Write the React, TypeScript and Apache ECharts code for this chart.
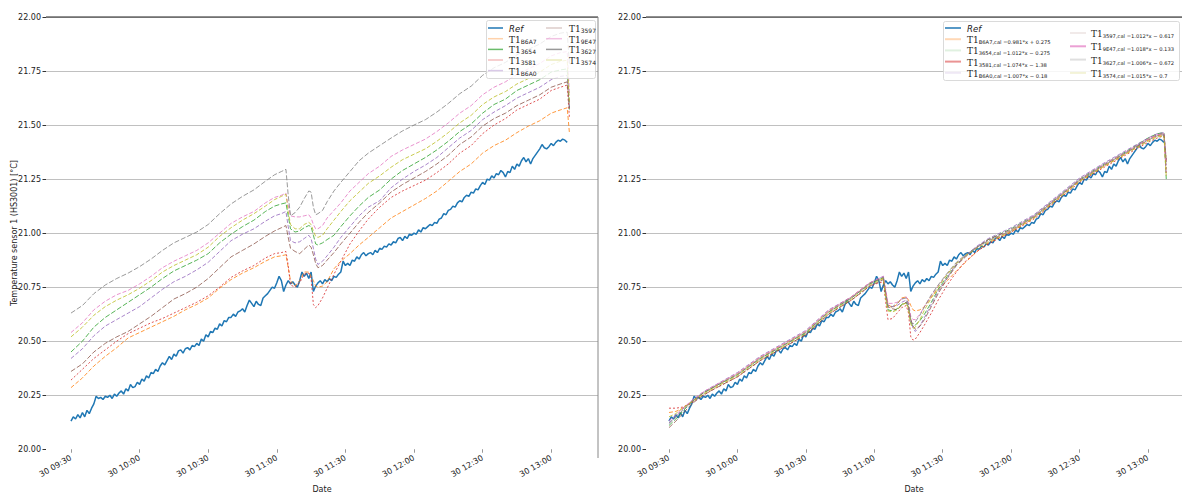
import React, { useEffect, useRef } from "react";
import * as echarts from "echarts";

// 09:30 expressed in minutes after midnight; all times below are minutes after 09:30
const START_MIN = 9 * 60 + 30;

const xTickLabels = ["30 09:30", "30 10:00", "30 10:30", "30 11:00", "30 11:30", "30 12:00", "30 12:30", "30 13:00"];

const sensorIds = ["B6A7", "3654", "3581", "B6A0", "3597", "9E47", "3627", "3574"];
const sensorColors = ["#ff7f0e", "#2ca02c", "#d62728", "#9467bd", "#8c564b", "#e377c2", "#7f7f7f", "#bcbd22"];
const calEquations = [
  "=0.981*x + 0.275",
  "=1.012*x \u2212 0.275",
  "=1.074*x \u2212 1.38",
  "=1.007*x \u2212 0.18",
  "=1.012*x \u2212 0.617",
  "=1.018*x \u2212 0.133",
  "=1.006*x \u2212 0.672",
  "=1.015*x \u2212 0.7",
];

// Reference sensor, one sample per minute from 09:30
const refTemp = [
  20.13, 20.15, 20.14, 20.16, 20.145, 20.17, 20.15, 20.18, 20.165, 20.19,
  20.21, 20.245, 20.235, 20.24, 20.23, 20.245, 20.24, 20.25, 20.235, 20.255,
  20.245, 20.26, 20.27, 20.255, 20.28, 20.27, 20.30, 20.285, 20.29, 20.31,
  20.30, 20.325, 20.315, 20.34, 20.33, 20.355, 20.35, 20.37, 20.36, 20.385,
  20.40, 20.39, 20.41, 20.43, 20.415, 20.44, 20.43, 20.455, 20.46, 20.445,
  20.465, 20.47, 20.46, 20.48, 20.475, 20.49, 20.48, 20.51, 20.50, 20.53,
  20.52, 20.545, 20.54, 20.56, 20.555, 20.58, 20.57, 20.595, 20.59, 20.61,
  20.61, 20.625, 20.615, 20.635, 20.64, 20.65, 20.635, 20.665, 20.69, 20.675,
  20.66, 20.685, 20.67, 20.665, 20.70, 20.71, 20.72, 20.735, 20.75, 20.745,
  20.77, 20.80, 20.78, 20.73, 20.76, 20.78, 20.765, 20.775, 20.76, 20.75,
  20.78, 20.82, 20.80, 20.815, 20.79, 20.82, 20.73, 20.755, 20.77, 20.78,
  20.765, 20.785, 20.775, 20.79, 20.78, 20.80, 20.795, 20.81, 20.82, 20.87,
  20.85, 20.86, 20.85, 20.875, 20.87, 20.89, 20.88, 20.90, 20.91, 20.895,
  20.905, 20.91, 20.90, 20.92, 20.91, 20.93, 20.925, 20.94, 20.935, 20.95,
  20.945, 20.96, 20.955, 20.975, 20.98, 20.965, 20.985, 20.975, 20.995, 20.99,
  21.00, 20.995, 21.015, 21.005, 21.025, 21.02, 21.03, 21.04, 21.035, 21.05,
  21.045, 21.065, 21.07, 21.09, 21.085, 21.105, 21.11, 21.125, 21.12, 21.14,
  21.15, 21.145, 21.165, 21.175, 21.17, 21.19, 21.185, 21.205, 21.20, 21.22,
  21.235, 21.225, 21.25, 21.245, 21.265, 21.255, 21.275, 21.27, 21.29, 21.28,
  21.26, 21.285, 21.28, 21.31, 21.295, 21.32, 21.31, 21.335, 21.35, 21.33,
  21.345, 21.32, 21.345, 21.36, 21.375, 21.39, 21.41, 21.395, 21.39, 21.40,
  21.415, 21.405, 21.42, 21.43, 21.425, 21.435, 21.43, 21.42,
];

// Raw T1 sensors (left panel)
const rawTimes = [
  0, 5, 10, 15, 20, 25, 30, 35, 40, 45, 50, 55, 60, 65, 70, 75, 80, 85,
  89, 92, 94, 95, 96, 98, 100, 102, 104, 105, 106, 107, 108, 110, 112, 115, 118, 122, 126, 130,
  135, 140, 145, 150, 155, 160, 165, 170, 175, 180, 185, 190, 195, 200, 205, 210,
  214, 217, 218,
];
const rawB6A7 = [
  20.285, 20.33, 20.385, 20.43, 20.47, 20.515, 20.54, 20.565, 20.59, 20.615, 20.645, 20.67, 20.70, 20.745, 20.785, 20.815, 20.84, 20.87,
  20.89, 20.895, 20.90, 20.84, 20.78, 20.755, 20.78, 20.82, 20.82, 20.80, 20.78, 20.755, 20.75, 20.755, 20.775, 20.835, 20.87, 20.905, 20.945, 20.98,
  21.025, 21.07, 21.10, 21.13, 21.16, 21.195, 21.24, 21.285, 21.32, 21.37, 21.405, 21.43, 21.465, 21.495, 21.52, 21.555,
  21.57, 21.58, 21.46,
];
const raw3654 = [
  20.45, 20.50, 20.565, 20.61, 20.645, 20.68, 20.715, 20.75, 20.79, 20.825, 20.85, 20.875, 20.905, 20.955, 20.995, 21.03, 21.06, 21.10,
  21.125, 21.135, 21.14, 21.08, 21.02, 21.005, 21.01, 21.025, 21.035, 21.03, 20.99, 20.95, 20.945, 20.955, 20.97, 20.99, 21.03, 21.08, 21.125, 21.165,
  21.20, 21.25, 21.29, 21.32, 21.35, 21.385, 21.425, 21.47, 21.505, 21.555, 21.595, 21.62, 21.66, 21.685, 21.71, 21.745,
  21.755, 21.76, 21.565,
];
const raw3581 = [
  20.32, 20.37, 20.42, 20.46, 20.50, 20.535, 20.56, 20.585, 20.605, 20.63, 20.655, 20.68, 20.71, 20.75, 20.795, 20.825, 20.85, 20.885,
  20.905, 20.91, 20.915, 20.85, 20.76, 20.75, 20.77, 20.81, 20.815, 20.79, 20.67, 20.655, 20.665, 20.70, 20.745, 20.81, 20.87, 20.95, 21.01, 21.065,
  21.12, 21.165, 21.195, 21.22, 21.245, 21.28, 21.32, 21.37, 21.405, 21.46, 21.50, 21.53, 21.57, 21.595, 21.62, 21.66,
  21.675, 21.685, 21.53,
];
const rawB6A0 = [
  20.42, 20.465, 20.525, 20.57, 20.60, 20.63, 20.66, 20.70, 20.74, 20.775, 20.80, 20.83, 20.865, 20.915, 20.965, 20.995, 21.02, 21.055,
  21.08, 21.09, 21.10, 21.03, 20.965, 20.955, 20.96, 20.975, 20.99, 20.975, 20.93, 20.88, 20.855, 20.87, 20.895, 20.935, 20.98, 21.03, 21.08, 21.12,
  21.15, 21.21, 21.25, 21.285, 21.315, 21.35, 21.395, 21.44, 21.475, 21.525, 21.56, 21.59, 21.625, 21.65, 21.675, 21.71,
  21.725, 21.73, 21.58,
];
const raw3597 = [
  20.36, 20.395, 20.45, 20.49, 20.52, 20.545, 20.58, 20.615, 20.655, 20.695, 20.72, 20.75, 20.79, 20.84, 20.89, 20.92, 20.95, 20.985,
  21.01, 21.025, 21.035, 20.98, 20.93, 20.915, 20.905, 20.925, 20.945, 20.935, 20.90, 20.86, 20.84, 20.85, 20.875, 20.91, 20.95, 21.00, 21.05, 21.095,
  21.14, 21.19, 21.225, 21.255, 21.285, 21.32, 21.36, 21.41, 21.445, 21.495, 21.53, 21.555, 21.59, 21.615, 21.64, 21.675,
  21.69, 21.70, 21.58,
];
const raw9E47 = [
  20.54, 20.585, 20.645, 20.685, 20.715, 20.735, 20.765, 20.80, 20.84, 20.87, 20.895, 20.92, 20.955, 21.00, 21.045, 21.075, 21.10, 21.14,
  21.165, 21.175, 21.185, 21.13, 21.08, 21.075, 21.075, 21.08, 21.085, 21.07, 21.04, 21.02, 21.02, 21.035, 21.07, 21.105, 21.14, 21.195, 21.235, 21.275,
  21.31, 21.355, 21.385, 21.41, 21.435, 21.47, 21.51, 21.555, 21.59, 21.64, 21.675, 21.70, 21.735, 21.76, 21.785, 21.82,
  21.835, 21.84, 21.64,
];
const raw3627 = [
  20.63, 20.665, 20.72, 20.76, 20.79, 20.815, 20.845, 20.88, 20.92, 20.955, 20.98, 21.005, 21.04, 21.09, 21.135, 21.17, 21.20, 21.24,
  21.27, 21.285, 21.295, 21.175, 21.08, 21.095, 21.12, 21.16, 21.195, 21.19, 21.12, 21.085, 21.09, 21.105, 21.145, 21.195, 21.235, 21.285, 21.335, 21.37,
  21.405, 21.44, 21.473, 21.50, 21.525, 21.56, 21.60, 21.645, 21.68, 21.73, 21.765, 21.79, 21.825, 21.85, 21.875, 21.91,
  21.925, 21.93, 21.78,
];
const raw3574 = [
  20.52, 20.565, 20.62, 20.66, 20.69, 20.715, 20.745, 20.78, 20.82, 20.85, 20.875, 20.90, 20.935, 20.985, 21.025, 21.06, 21.09, 21.125,
  21.155, 21.17, 21.18, 21.10, 21.04, 21.02, 21.02, 21.04, 21.05, 21.04, 21.01, 20.985, 20.98, 20.99, 21.02, 21.06, 21.10, 21.15, 21.19, 21.23,
  21.265, 21.305, 21.34, 21.365, 21.39, 21.425, 21.465, 21.51, 21.545, 21.595, 21.63, 21.655, 21.69, 21.715, 21.745, 21.78,
  21.795, 21.80, 21.60,
];

// Calibrated T1 sensors (right panel)
const calTimes = [
  0, 3, 6, 10, 15, 20, 30, 40, 50, 60, 70, 80,
  88, 92, 94, 95, 96, 98, 100, 102, 104, 105, 106, 107, 108, 110, 112, 115, 118, 122, 126, 130, 135, 140,
  150, 160, 170, 180, 190, 200, 210, 214, 217, 218,
];
const calB6A7 = [
  20.17, 20.175, 20.19, 20.22, 20.26, 20.29, 20.35, 20.425, 20.485, 20.545, 20.64, 20.705,
  20.77, 20.785, 20.79, 20.73, 20.67, 20.655, 20.67, 20.70, 20.705, 20.69, 20.665, 20.645, 20.64, 20.645, 20.66, 20.705, 20.74, 20.78, 20.825, 20.865, 20.915, 20.955,
  21.005, 21.07, 21.155, 21.24, 21.305, 21.365, 21.43, 21.45, 21.455, 21.33,
];
const cal3654 = [
  20.11, 20.14, 20.175, 20.22, 20.26, 20.29, 20.345, 20.42, 20.48, 20.54, 20.635, 20.70,
  20.765, 20.785, 20.795, 20.71, 20.645, 20.64, 20.65, 20.67, 20.68, 20.655, 20.585, 20.57, 20.575, 20.595, 20.625, 20.68, 20.74, 20.80, 20.855, 20.895, 20.935, 20.97,
  21.02, 21.08, 21.165, 21.25, 21.315, 21.375, 21.44, 21.46, 21.465, 21.25,
];
const cal3581 = [
  20.19, 20.19, 20.195, 20.215, 20.25, 20.28, 20.335, 20.41, 20.47, 20.53, 20.625, 20.69,
  20.755, 20.77, 20.775, 20.68, 20.60, 20.605, 20.63, 20.655, 20.665, 20.63, 20.52, 20.505, 20.51, 20.54, 20.575, 20.63, 20.69, 20.76, 20.82, 20.87, 20.915, 20.95,
  21.005, 21.065, 21.15, 21.235, 21.30, 21.36, 21.42, 21.44, 21.45, 21.28,
];
const calB6A0 = [
  20.12, 20.15, 20.185, 20.225, 20.265, 20.295, 20.355, 20.43, 20.49, 20.55, 20.645, 20.705,
  20.77, 20.79, 20.80, 20.73, 20.665, 20.66, 20.665, 20.68, 20.69, 20.665, 20.60, 20.56, 20.545, 20.57, 20.61, 20.67, 20.73, 20.795, 20.855, 20.895, 20.94, 20.975,
  21.025, 21.085, 21.17, 21.255, 21.32, 21.38, 21.44, 21.46, 21.465, 21.33,
];
const cal3597 = [
  20.10, 20.13, 20.165, 20.21, 20.25, 20.28, 20.335, 20.41, 20.47, 20.53, 20.625, 20.69,
  20.755, 20.775, 20.785, 20.72, 20.66, 20.65, 20.645, 20.665, 20.68, 20.66, 20.60, 20.57, 20.555, 20.57, 20.60, 20.66, 20.72, 20.79, 20.85, 20.89, 20.935, 20.97,
  21.015, 21.075, 21.16, 21.245, 21.31, 21.37, 21.435, 21.455, 21.46, 21.34,
];
const cal9E47 = [
  20.13, 20.16, 20.19, 20.225, 20.265, 20.295, 20.35, 20.425, 20.485, 20.545, 20.64, 20.705,
  20.77, 20.79, 20.80, 20.74, 20.675, 20.675, 20.68, 20.695, 20.705, 20.68, 20.615, 20.60, 20.60, 20.625, 20.66, 20.71, 20.755, 20.81, 20.86, 20.895, 20.935, 20.965,
  21.015, 21.08, 21.165, 21.25, 21.315, 21.375, 21.435, 21.455, 21.46, 21.27,
];
const cal3627 = [
  20.12, 20.15, 20.18, 20.22, 20.26, 20.29, 20.345, 20.42, 20.48, 20.54, 20.635, 20.70,
  20.765, 20.785, 20.795, 20.72, 20.655, 20.66, 20.675, 20.695, 20.70, 20.67, 20.59, 20.58, 20.59, 20.62, 20.66, 20.715, 20.76, 20.815, 20.865, 20.90, 20.935, 20.965,
  21.01, 21.075, 21.16, 21.245, 21.31, 21.37, 21.43, 21.45, 21.455, 21.30,
];
const cal3574 = [
  20.15, 20.165, 20.19, 20.22, 20.255, 20.285, 20.34, 20.415, 20.475, 20.535, 20.63, 20.695,
  20.76, 20.78, 20.79, 20.70, 20.64, 20.635, 20.645, 20.67, 20.675, 20.65, 20.58, 20.56, 20.565, 20.60, 20.645, 20.70, 20.75, 20.81, 20.86, 20.895, 20.93, 20.96,
  21.01, 21.07, 21.155, 21.24, 21.305, 21.365, 21.425, 21.445, 21.45, 21.26,
];

const rawSeriesValues = [rawB6A7, raw3654, raw3581, rawB6A0, raw3597, raw9E47, raw3627, raw3574];
const calSeriesValues = [calB6A7, cal3654, cal3581, calB6A0, cal3597, cal9E47, cal3627, cal3574];

const tickValues = xTickLabels.map((s) => {
  const hm = s.split(" ")[1].split(":");
  return parseInt(hm[0], 10) * 60 + parseInt(hm[1], 10);
});

const FONT = "DejaVu Sans";
const TXT = "#222";

const legendOpacityLeft = [0.35, 0.7, 0.3, 0.35, 0.3, 0.45, 0.8, 0.3];
const legendOpacityRight = [0.3, 0.15, 0.5, 0.15, 0.12, 0.7, 0.25, 0.18];

const richStyles = {
  m: { fontSize: 9, fontFamily: "DejaVu Serif", fill: TXT, lineHeight: 11, verticalAlign: "bottom" },
  s: { fontSize: 6, fontFamily: FONT, fill: TXT, lineHeight: 5, verticalAlign: "bottom" },
  e: { fontSize: 5.2, fontFamily: FONT, fill: TXT, lineHeight: 5, verticalAlign: "bottom" },
  r: { fontSize: 8.5, fontFamily: FONT, fontStyle: "italic", fill: TXT, lineHeight: 11, verticalAlign: "bottom" },
};

function legendEntry(x1: number, x2: number, tx: number, y: number, color: string, opacity: number, text: string, width: number) {
  return [
    { type: "line", z: 101, shape: { x1, y1: y, x2, y2: y }, style: { stroke: color, lineWidth: width, opacity } },
    { type: "text", z: 101, x: tx, y, style: { text, rich: richStyles, verticalAlign: "middle", align: "left" } },
  ];
}

function buildGraphics() {
  const g: any[] = [];
  // spines
  g.push({ type: "line", z: 50, shape: { x1: 46, y1: 17, x2: 598, y2: 17 }, style: { stroke: "#222", lineWidth: 1 } });
  g.push({ type: "line", z: 50, shape: { x1: 598, y1: 17, x2: 598, y2: 458 }, style: { stroke: "#888", lineWidth: 1 } });
  g.push({ type: "line", z: 50, shape: { x1: 646, y1: 17, x2: 1182, y2: 17 }, style: { stroke: "#222", lineWidth: 1 } });

  // left legend
  g.push({ type: "rect", z: 100, shape: { x: 486.5, y: 20.5, width: 109, height: 58, r: 2 }, style: { fill: "rgba(255,255,255,0.82)", stroke: "#d0d0d0", lineWidth: 0.8 } });
  const lRows1 = [28, 38.7, 49.4, 60, 70.6];
  const lRows2 = [28, 38.7, 49.4, 60];
  g.push(...legendEntry(488, 503, 509, lRows1[0], "#1f77b4", 1, "{r|Ref}", 1.5));
  for (let i = 0; i < 4; i++) {
    g.push(...legendEntry(488, 503, 509, lRows1[i + 1], sensorColors[i], legendOpacityLeft[i], `{m|T1}{s|${sensorIds[i]}}`, 1.5));
  }
  for (let i = 4; i < 8; i++) {
    g.push(...legendEntry(546, 562, 569, lRows2[i - 4], sensorColors[i], legendOpacityLeft[i], `{m|T1}{s|${sensorIds[i]}}`, 1.5));
  }

  // right legend
  g.push({ type: "rect", z: 100, shape: { x: 943.5, y: 21.5, width: 236, height: 59, r: 2 }, style: { fill: "rgba(255,255,255,0.85)", stroke: "#d0d0d0", lineWidth: 0.8 } });
  const rRows1 = [28, 39.2, 50.4, 61.6, 72.8];
  const rRows2 = [33, 46.3, 59.6, 72.9];
  g.push(...legendEntry(945, 961, 967, rRows1[0], "#1f77b4", 1, "{r|Ref}", 1.5));
  for (let i = 0; i < 4; i++) {
    g.push(...legendEntry(945, 961, 967, rRows1[i + 1], sensorColors[i], legendOpacityRight[i], `{m|T1}{e|${sensorIds[i]},cal ${calEquations[i]}}`, 2));
  }
  for (let i = 4; i < 8; i++) {
    g.push(...legendEntry(1070, 1086, 1091, rRows2[i - 4], sensorColors[i], legendOpacityRight[i], `{m|T1}{e|${sensorIds[i]},cal ${calEquations[i]}}`, 2));
  }
  return g;
}

function fmtTick(v: number) {
  const idx = tickValues.indexOf(Math.round(v));
  return idx >= 0 ? xTickLabels[idx] : "";
}

function makeXAxis(gridIndex: number, min: number, max: number) {
  return {
    type: "value",
    gridIndex,
    min,
    max,
    axisLine: { show: false },
    axisTick: { show: true, customValues: tickValues, length: 3.5, lineStyle: { color: "#999", width: 1 } },
    axisLabel: { customValues: tickValues, formatter: fmtTick, rotate: 30, fontSize: 8, color: TXT, margin: 8, fontFamily: FONT },
    splitLine: { show: false },
    name: "Date",
    nameLocation: "middle",
    nameGap: 30,
    nameTextStyle: { fontSize: 8, color: TXT, fontFamily: FONT },
  };
}

function makeYAxis(gridIndex: number, withName: boolean) {
  return {
    type: "value",
    gridIndex,
    min: 20,
    max: 22,
    interval: 0.25,
    axisLine: { show: false },
    axisTick: { show: true, length: 3.5, lineStyle: { color: "#333", width: 1 } },
    axisLabel: { formatter: (v: number) => v.toFixed(2), fontSize: 8, color: TXT, margin: 5, fontFamily: FONT },
    splitLine: { show: true, showMinLine: false, lineStyle: { color: "#b0b0b0", width: 0.8 } },
    name: withName ? "Temperature sensor 1 (HS3001) [\u00b0C]" : "",
    nameLocation: "middle",
    nameGap: 28,
    nameMoveOverlap: false,
    nameTextStyle: { fontSize: 8, color: TXT, fontFamily: FONT },
  };
}

const dashTypes = [[4, 2], [5, 2], [2, 2], [4, 2], [5, 2], [4, 2], [5, 2], [4, 2]];

function buildSeries() {
  const series: any[] = [];
  const refData = refTemp.map((v, i) => [START_MIN + i, v]);
  [0, 1].forEach((panel) => {
    series.push({
      type: "line",
      name: panel === 0 ? "Ref" : "Ref ",
      xAxisIndex: panel,
      yAxisIndex: panel,
      data: refData,
      symbol: "none",
      showSymbol: false,
      z: 2,
      lineStyle: { color: "#1f77b4", width: 1.5 },
      itemStyle: { color: "#1f77b4" },
    });
    const times = panel === 0 ? rawTimes : calTimes;
    const values = panel === 0 ? rawSeriesValues : calSeriesValues;
    values.forEach((arr, k) => {
      series.push({
        type: "line",
        name: panel === 0 ? `T1_${sensorIds[k]}` : `T1_${sensorIds[k]},cal`,
        xAxisIndex: panel,
        yAxisIndex: panel,
        data: times.map((t, i) => [START_MIN + t, arr[i]]),
        symbol: "none",
        showSymbol: false,
        z: 3,
        lineStyle: { color: sensorColors[k], width: 1, type: dashTypes[k], opacity: 0.8 },
        itemStyle: { color: sensorColors[k] },
      });
    });
  });
  return series;
}

export default function App() {
  const ref = useRef<HTMLDivElement>(null);
  useEffect(() => {
    if (!ref.current) return;
    const chart = echarts.init(ref.current, undefined, { renderer: "svg" });
    chart.setOption({
      animation: false,
      backgroundColor: "#ffffff",
      textStyle: { fontFamily: FONT },
      grid: [
        { left: 46, top: 17, width: 552, height: 441 },
        { left: 646, top: 17, width: 536, height: 441 },
      ],
      xAxis: [makeXAxis(0, 559.07, 800.47), makeXAxis(1, 559.92, 794.9)],
      yAxis: [makeYAxis(0, true), makeYAxis(1, false)],
      series: buildSeries(),
      graphic: buildGraphics(),
    });
    return () => chart.dispose();
  }, []);
  return <div ref={ref} style={{ position: "absolute", left: 0, top: 0, width: 1182, height: 498 }} />;
}
